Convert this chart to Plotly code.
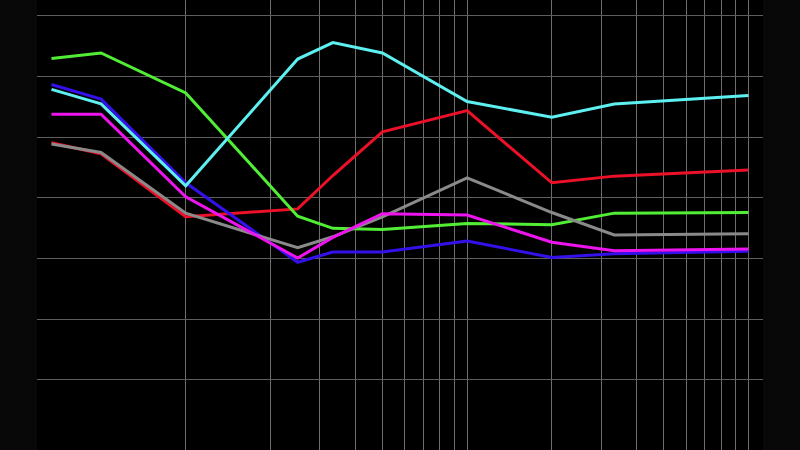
import plotly.graph_objects as go

# x positions (log axis) shared by all series
x_vals = [1 / 3, 0.5, 1, 2.5, 10 / 3, 5, 10, 20, 100 / 3, 100]

red = [3.91, 3.73, 2.69, 2.82, 3.37, 4.09, 4.44, 3.25, 3.36, 3.46]
blue = [4.87, 4.63, 3.25, 1.94, 2.11, 2.11, 2.29, 2.02, 2.08, 2.12]
green = [5.30, 5.39, 4.73, 2.70, 2.50, 2.48, 2.58, 2.56, 2.75, 2.76]
cyan = [4.79, 4.55, 3.20, 5.29, 5.56, 5.39, 4.59, 4.33, 4.55, 4.69]
gray = [3.89, 3.75, 2.75, 2.18, 2.36, 2.69, 3.33, 2.76, 2.39, 2.41]
magenta = [4.38, 4.38, 3.02, 2.01, 2.35, 2.74, 2.72, 2.27, 2.13, 2.16]

x_grid = [1, 2, 3, 4, 5, 6, 7, 8, 9, 10, 20, 30, 40, 50, 60, 70, 80, 90, 100]
y_grid = [0, 1, 2, 3, 4, 5, 6]

series = [
    ("red", red, "#ec1028"),
    ("blue", blue, "#3410ea"),
    ("green", green, "#52ee36"),
    ("cyan", cyan, "#5ef0f0"),
    ("gray", gray, "#8a8a8a"),
    ("magenta", magenta, "#ee14ee"),
]

fig = go.Figure()
for name, ys, color in series:
    fig.add_trace(
        go.Scatter(
            x=x_vals,
            y=ys,
            mode="lines",
            name=name,
            line=dict(color=color, width=3),
            showlegend=False,
        )
    )

fig.update_layout(
    width=800,
    height=450,
    paper_bgcolor="#080808",
    plot_bgcolor="#000000",
    margin=dict(l=37, r=37, t=0, b=0),
    xaxis=dict(
        type="log",
        range=[-0.5286, 2.0516],
        tickmode="array",
        tickvals=x_grid,
        showticklabels=False,
        showgrid=True,
        gridcolor="#6e6e6e",
        gridwidth=1,
        zeroline=False,
        showline=False,
    ),
    yaxis=dict(
        range=[-1.154, 6.263],
        tickmode="array",
        tickvals=y_grid,
        showticklabels=False,
        showgrid=True,
        gridcolor="#5e5e5e",
        gridwidth=1,
        zeroline=False,
        showline=False,
    ),
)

# drop the page's default body margin so the figure sits at the window corner
fig.write_html(
    "out.html",
    config={"displayModeBar": False},
    post_script="document.body.style.margin='0';document.body.style.background='#080808';",
)
